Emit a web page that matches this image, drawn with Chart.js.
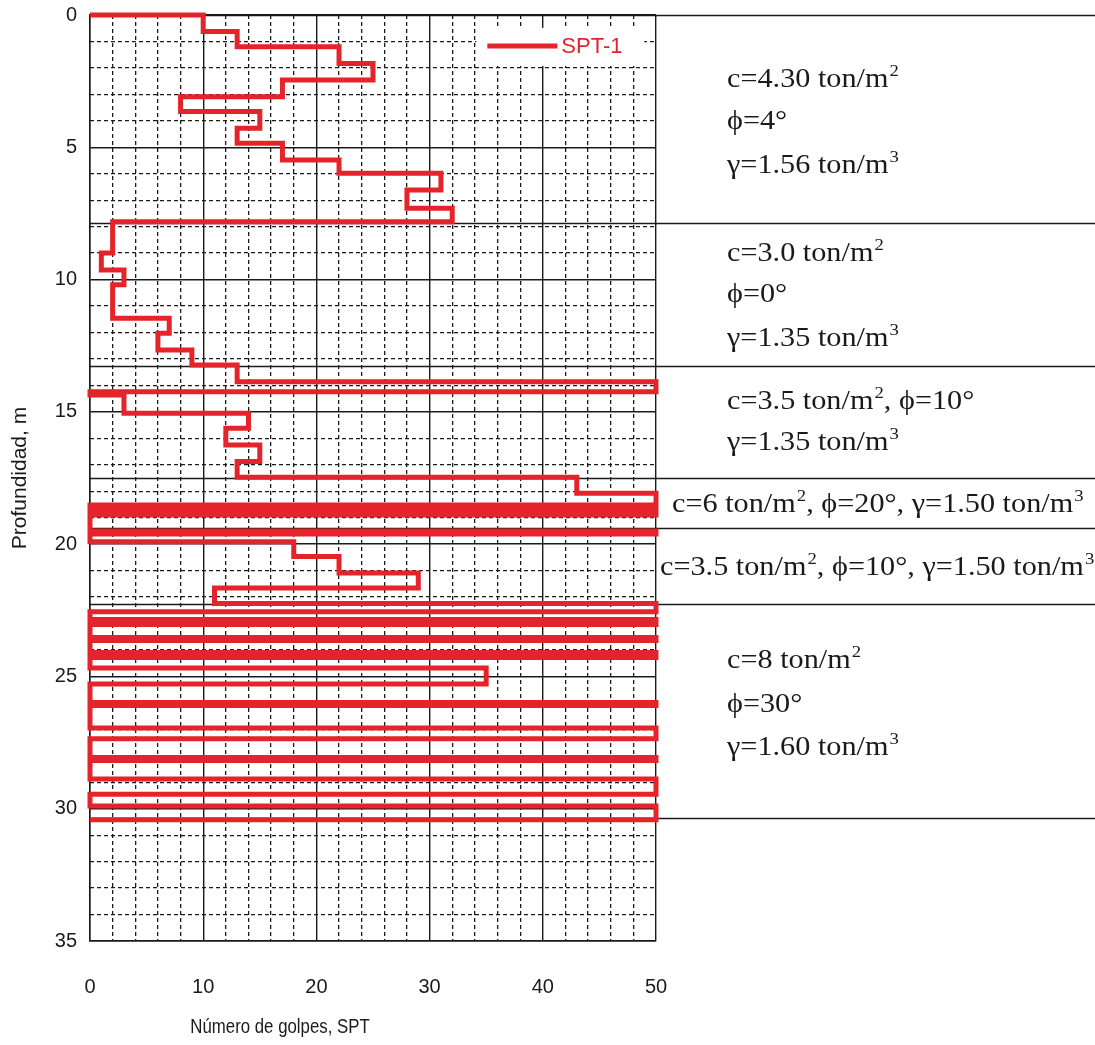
<!DOCTYPE html>
<html><head><meta charset="utf-8">
<script src="https://cdn.jsdelivr.net/npm/chart.js@4.4.1/dist/chart.umd.min.js"></script>
<style>html,body{margin:0;padding:0;background:#fff;}</style>
</head><body>
<canvas id="c" width="1095" height="1045"></canvas>
<script>
// ---- Data ----
const seriesLabel = 'SPT-1';
// N (golpes) for each depth interval
const golpes = [10,13,22,25,17,8,15,13,17,22,31,28,32,2,1,3,2,7,6,9,13,50,0,3,14,12,15,13,43,50,0,50,0,50,0,18,22,29,11,50,0,50,0,50,0,50,0,35,0,50,0,50,0,50,0,50,0,50];
// depth limits of the intervals (m): golpes[i] applies from depthBreaks[i] to depthBreaks[i+1]
const depthBreaks = [0,0.62,1.2,1.83,2.46,3.09,3.65,4.28,4.85,5.48,5.98,6.61,7.3,7.81,9.0,9.64,10.2,11.46,12.03,12.66,13.23,13.86,14.24,14.36,15.05,15.62,16.25,16.88,17.47,18.08,18.52,18.71,18.9,19.5,19.62,19.91,20.47,21.09,21.66,22.24,22.56,22.85,23.04,23.53,23.64,24.1,24.28,24.68,25.29,25.99,26.1,26.95,27.36,28.06,28.18,28.88,29.45,29.9,30.42];
// soil layer boundaries (m)
const layerBounds = [0, 7.86, 13.27, 17.5, 19.39, 22.26, 30.35];
// layer descriptions (^n = superscript)
const layerTexts = [
  ['c=4.30 ton/m^2', 'ϕ=4°', 'γ=1.56 ton/m^3'],
  ['c=3.0 ton/m^2', 'ϕ=0°', 'γ=1.35 ton/m^3'],
  ['c=3.5 ton/m^2, ϕ=10°', 'γ=1.35 ton/m^3'],
  ['c=6 ton/m^2, ϕ=20°, γ=1.50 ton/m^3'],
  ['c=3.5 ton/m^2, ϕ=10°, γ=1.50 ton/m^3'],
  ['c=8 ton/m^2', 'ϕ=30°', 'γ=1.60 ton/m^3']
];
const xTicks = {min: 0, max: 50, step: 10, minorStep: 2};
const yTicks = {min: 0, max: 35, step: 5, minorStep: 1};
const xTitle = 'Número de golpes, SPT';
const yTitle = 'Profundidad, m';

// ---- layout of the text panel (pixel styling) ----
const textLayout = [
  {x: 727, base: [2.72, 4.29, 5.97]},
  {x: 727, base: [9.30, 10.85, 12.51]},
  {x: 727, base: [14.89, 16.44]},
  {x: 672, base: [18.79]},
  {x: 660, base: [21.17]},
  {x: 727, base: [24.68, 26.34, 27.97]}
];

// build the staircase from the arrays
const pts = [{x: 0, y: depthBreaks[0]}];
golpes.forEach((n, i) => {
  pts.push({x: n, y: depthBreaks[i]});
  pts.push({x: n, y: depthBreaks[i + 1]});
});
pts.push({x: 0, y: depthBreaks[depthBreaks.length - 1]});

const RED = '#e5232b';
const INK = '#1a1a1a';

function drawRich(ctx, str, x, y, size, sx) {
  ctx.save();
  ctx.translate(x, y);
  ctx.scale(sx, 1);
  ctx.textBaseline = 'alphabetic';
  ctx.textAlign = 'left';
  ctx.fillStyle = INK;
  const parts = str.split(/\^(\d)/);
  let cx = 0;
  parts.forEach((p, i) => {
    if (!p) return;
    if (i % 2 === 1) {
      ctx.font = (size * 0.62) + 'px "Liberation Serif"';
      ctx.fillText(p, cx + 1, -size * 0.4);
      cx += ctx.measureText(p).width + 1;
    } else {
      ctx.font = size + 'px "Liberation Serif"';
      ctx.fillText(p, cx, 0);
      cx += ctx.measureText(p).width;
    }
  });
  ctx.restore();
}

const panelPlugin = {
  id: 'panel',
  beforeDatasetsDraw(chart) {
    const {ctx, chartArea, scales} = chart;
    ctx.save();
    ctx.strokeStyle = INK;
    ctx.lineWidth = 1.5;
    layerBounds.forEach(d => {
      const y = Math.round(scales.y.getPixelForValue(d)) + 0.5;
      ctx.beginPath();
      ctx.moveTo(chartArea.left, y);
      ctx.lineTo(chart.width, y);
      ctx.stroke();
    });
    ctx.restore();
  },
  afterDraw(chart) {
    const {ctx, scales} = chart;
    // layer texts
    layerTexts.forEach((lines, li) => {
      const lay = textLayout[li];
      lines.forEach((t, k) => {
        drawRich(ctx, t, lay.x, scales.y.getPixelForValue(lay.base[k]), 28, 1.08);
      });
    });
    // legend box
    const ds = chart.data.datasets[0];
    const lx = scales.x.getPixelForValue(35.1), ly = scales.y.getPixelForValue(1.17);
    ctx.save();
    ctx.fillStyle = '#fff';
    ctx.fillRect(lx - 11, ly - 18, 168, 38);
    ctx.strokeStyle = ds.borderColor;
    ctx.lineWidth = 5;
    ctx.beginPath();
    ctx.moveTo(lx, ly);
    ctx.lineTo(lx + 70, ly);
    ctx.stroke();
    ctx.fillStyle = ds.borderColor;
    ctx.font = '22px "Liberation Sans"';
    ctx.textBaseline = 'middle';
    ctx.fillText(ds.label, lx + 74, ly + 1);
    // x axis title
    ctx.fillStyle = INK;
    ctx.translate(280, 1027);
    ctx.scale(0.8, 1);
    ctx.font = '21px "Liberation Sans"';
    ctx.textAlign = 'center';
    ctx.textBaseline = 'middle';
    ctx.fillText(xTitle, 0, 0);
    ctx.restore();
  }
};

new Chart(document.getElementById('c'), {
  type: 'scatter',
  data: {
    datasets: [{
      label: seriesLabel,
      data: pts,
      showLine: true,
      borderColor: RED,
      backgroundColor: RED,
      borderWidth: 5,
      pointRadius: 0,
      tension: 0,
      fill: false,
      clip: 8,
      borderJoinStyle: 'miter'
    }]
  },
  options: {
    responsive: false,
    animation: false,
    layout: {padding: {left: 0, right: 439, top: 15, bottom: 0}},
    plugins: {legend: {display: false}, tooltip: {enabled: false}},
    scales: {
      x: {
        type: 'linear', position: 'bottom', min: xTicks.min, max: xTicks.max,
        ticks: {stepSize: xTicks.step, padding: 34, color: INK, font: {family: 'Liberation Sans', size: 20}, maxRotation: 0},
        grid: {color: INK, lineWidth: 1.4, drawTicks: false},
        border: {display: true, color: INK, width: 1.5},
        afterFit(s) { s.height = 104; s.paddingLeft = 0; s.paddingRight = 0; }
      },
      xm: {
        type: 'linear', position: 'bottom', min: xTicks.min, max: xTicks.max,
        ticks: {stepSize: xTicks.minorStep, display: false},
        grid: {color: c => (c.tick && c.tick.value % xTicks.step === 0) ? 'rgba(0,0,0,0)' : INK, lineWidth: 1.3, drawTicks: false},
        border: {display: false, dash: [4, 3]},
        afterFit(s) { s.height = 0; s.paddingLeft = 0; s.paddingRight = 0; }
      },
      y: {
        type: 'linear', position: 'left', reverse: true, min: yTicks.min, max: yTicks.max,
        ticks: {stepSize: yTicks.step, padding: 13, color: INK, font: {family: 'Liberation Sans', size: 20}},
        grid: {color: INK, lineWidth: 1.4, drawTicks: false},
        border: {display: true, color: INK, width: 1.5},
        title: {display: true, text: yTitle, color: INK, font: {family: 'Liberation Sans', size: 21}, padding: {top: 8, bottom: 0}},
        afterFit(s) { s.width = 90; s.paddingTop = 0; s.paddingBottom = 0; }
      },
      ym: {
        type: 'linear', position: 'left', reverse: true, min: yTicks.min, max: yTicks.max,
        ticks: {stepSize: yTicks.minorStep, display: false},
        grid: {color: c => (c.tick && c.tick.value % yTicks.step === 0) ? 'rgba(0,0,0,0)' : INK, lineWidth: 1.3, drawTicks: false},
        border: {display: false, dash: [4, 3]},
        afterFit(s) { s.width = 0; s.paddingTop = 0; s.paddingBottom = 0; }
      }
    }
  },
  plugins: [panelPlugin]
});
</script>
</body></html>
